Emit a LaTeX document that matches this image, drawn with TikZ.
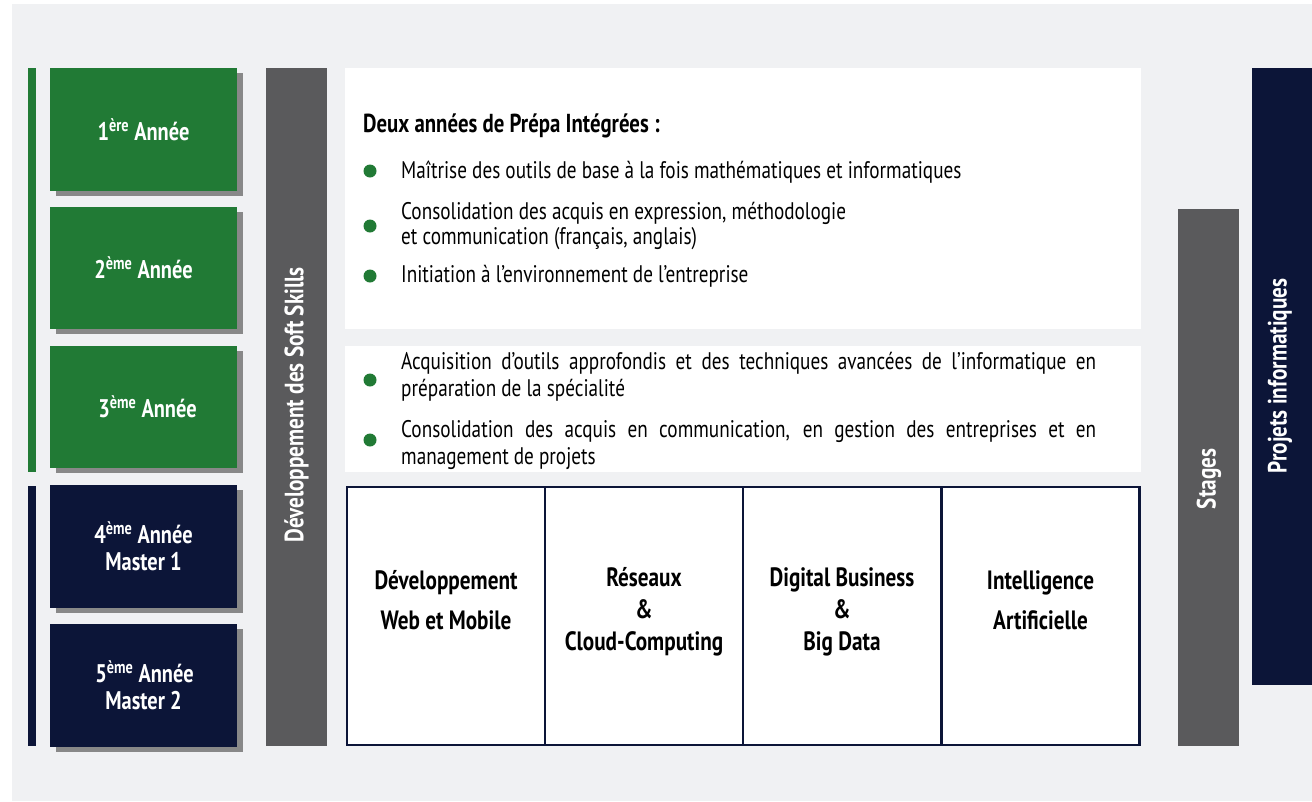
\documentclass[tikz,border=0pt]{standalone}
\usepackage{fontspec}
\setmainfont{PT Sans}[FakeStretch=0.8]
\usetikzlibrary{shadows}
\definecolor{bgc}{RGB}{240,241,243}
\definecolor{grn}{RGB}{33,122,53}
\definecolor{navy}{RGB}{12,21,56}
\definecolor{barg}{RGB}{90,90,92}
\definecolor{shd}{RGB}{136,136,136}
\begin{document}
\begin{tikzpicture}[x=1pt,y=-1pt,
  yearbox/.style={inner sep=0pt, text=white, font=\bfseries\fontsize{25.5}{27}\selectfont, align=center,
    drop shadow={shadow xshift=6pt, shadow yshift=-5pt, fill=shd, opacity=1}},
  vbar/.style={inner sep=0pt, text=white, font=\bfseries\fontsize{26.5}{25}\selectfont},
  whitebox/.style={fill=white, inner sep=0pt},
  specbox/.style={draw=navy, line width=2.5pt, fill=white, inner sep=0pt, minimum width=198pt, minimum height=258pt},
  spectext/.style={font=\bfseries\fontsize{26.5}{32}\selectfont, align=center, text=black},
  bodytext/.style={font=\fontsize{24}{26}\selectfont, align=left, anchor=west, inner sep=0pt, text=black},
  bullet/.style={circle, fill=grn, inner sep=0pt, minimum size=13pt}
]
\useasboundingbox (0,0) rectangle (1312,801);
\fill[white] (0,0) rectangle (1312,801);
\fill[bgc] (12,4) rectangle (1312,801);
% side bars
\fill[grn] (28,68) rectangle (36,472);
\fill[navy] (28,486) rectangle (36,746);
% year boxes
\node[yearbox, fill=grn, minimum width=187pt, minimum height=123pt] (y1) at (143.5,129.5) {1\textsuperscript{ère} Année};
\node[yearbox, fill=grn, minimum width=187pt, minimum height=122pt] (y2) at (143.5,268) {2\textsuperscript{ème} Année};
\node[yearbox, fill=grn, minimum width=187pt, minimum height=122pt] (y3) at (143.5,407) {\hspace*{8pt}3\textsuperscript{ème} Année};
\node[yearbox, fill=navy, minimum width=187pt, minimum height=123pt] (y4) at (143.5,546.5) {4\textsuperscript{ème} Année\\Master 1};
\node[yearbox, fill=navy, minimum width=187pt, minimum height=123pt] (y5) at (143.5,685.5) {\hspace*{2pt}5\textsuperscript{ème} Année\\Master 2};
% soft skills
\node[vbar, fill=barg, minimum width=61pt, minimum height=678pt] (soft) at (296.5,407) {};
\node[vbar, rotate=90] (softt) at (296.5,405) {Développement des Soft Skills};
% white boxes
\node[whitebox, minimum width=796pt, minimum height=261pt] (top) at (743,198.5) {};
\node[whitebox, minimum width=796pt, minimum height=126pt] (mid) at (743,409) {};
% top box text
\node[bodytext, font=\bfseries\fontsize{26}{26}\selectfont] (title) at (363,126) {Deux années de Prépa Intégrées :};
\node[bullet] (b1) at (370,171) {};
\node[bodytext] (t1) at (401,172) {Maîtrise des outils de base à la fois mathématiques et informatiques};
\node[bullet] (b2) at (370,226) {};
\node[bodytext, font=\fontsize{24}{25}\selectfont] (t2) at (401,225.5) {Consolidation des acquis en expression, méthodologie\\et communication (français, anglais)};
\node[bullet] (b3) at (370,276) {};
\node[bodytext] (t3) at (401,276) {Initiation à l’environnement de l’entreprise};
% middle box text
\node[bullet] (b4) at (370,380) {};
\node[bodytext, font=\fontsize{24}{27}\selectfont, text width=695pt, align=justify] (t4) at (401,376.5) {Acquisition d’outils approfondis et des techniques avancées de l’informatique en\linebreak préparation de la spécialité};
\node[bullet] (b5) at (370,440) {};
\node[bodytext, font=\fontsize{24}{27}\selectfont, text width=695pt, align=justify] (t5) at (401,444.5) {Consolidation des acquis en communication, en gestion des entreprises et en\linebreak management de projets};
% specialty boxes
\node[specbox] (s1) at (446,616) {};
\node[specbox] (s2) at (644,616) {};
\node[specbox] (s3) at (842,616) {};
\node[specbox] (s4) at (1040.5,616) {};
\node[spectext, font=\bfseries\fontsize{26.5}{40}\selectfont] (s1t) at (446,600) {Développement\\Web et Mobile};
\node[spectext] (s2t) at (644,612) {Réseaux\\\&\\Cloud-Computing};
\node[spectext] (s3t) at (842,612) {Digital Business\\\&\\Big Data};
\node[spectext, font=\bfseries\fontsize{26.5}{40}\selectfont] (s4t) at (1040.5,600) {Intelligence\\Artificielle};
% stages and projets
\node[vbar, fill=barg, minimum width=61pt, minimum height=537pt] (stg) at (1208.5,477.5) {};
\node[vbar, rotate=90] (stgt) at (1209,479) {Stages};
\node[vbar, fill=navy, minimum width=60pt, minimum height=617pt] (proj) at (1282,376.5) {};
\node[vbar, rotate=90] (projt) at (1280,376) {Projets informatiques};
\end{tikzpicture}
\end{document}
